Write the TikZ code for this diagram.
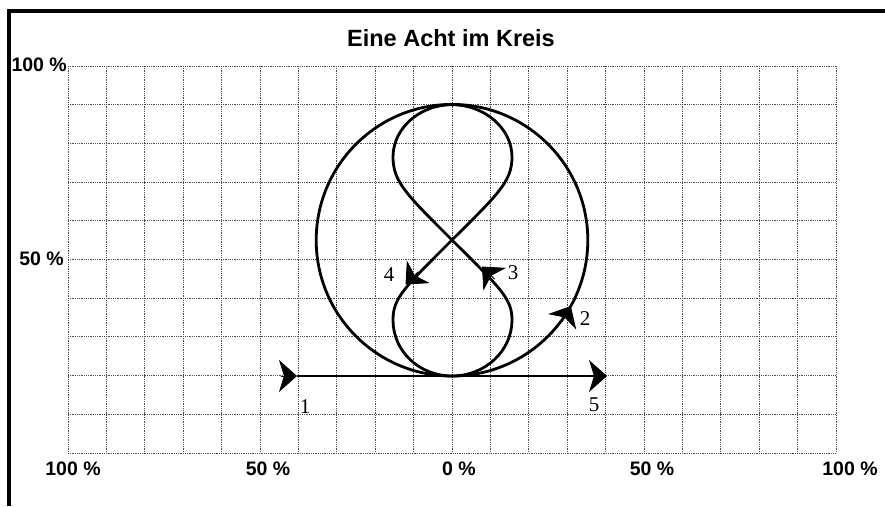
\documentclass[tikz,border=0pt]{standalone}
\usepackage{fontspec}
\setmainfont{Liberation Serif}
\newfontfamily\arialfont{Liberation Sans}
\usetikzlibrary{arrows.meta}
\begin{document}
\begin{tikzpicture}[x=1pt,y=-1pt,
  >={Stealth[length=18pt,width=32pt,inset=5pt,line width=0.8pt]},
  gridline/.style={draw=black!70, line width=0.9pt, dash pattern=on 1pt off 0.8pt},
  pathline/.style={draw=black, line width=2.8pt},
  tipmark/.style={->, draw=black, line width=0.8pt},
  axislabel/.style={font=\arialfont\bfseries\fontsize{19.5}{22}\selectfont, inner sep=0pt},
  numlabel/.style={font=\fontsize{21}{24}\selectfont, inner sep=0pt},
  titlelabel/.style={font=\arialfont\bfseries\fontsize{23.5}{27}\selectfont, inner sep=0pt}
]
\fill[white] (0,0) rectangle (885,506);
\useasboundingbox (0,0) rectangle (885,506);

% grid
\foreach \i in {0,...,20}
  \draw[gridline] ({68+38.4*\i},66) -- ({68+38.4*\i},453);
\foreach \j in {0,...,10}
  \draw[gridline] (68,{66+38.7*\j}) -- (836,{66+38.7*\j});

% frame
\draw[line width=4pt] (9,506) -- (9,11) -- (885,11);

% title
\node[titlelabel] (title) at (451,38) {Eine Acht im Kreis};

% axis labels
\node[axislabel, anchor=east] (ytop) at (67,65) {100 \%};
\node[axislabel, anchor=east] (ymid) at (64,259) {50 \%};
\node[axislabel] (xl100) at (73,469) {100 \%};
\node[axislabel] (xl50) at (268,469) {50 \%};
\node[axislabel] (x0) at (459,469) {0 \%};
\node[axislabel] (xr50) at (652,469) {50 \%};
\node[axislabel] (xr100) at (850,469) {100 \%};

% key points
\coordinate (B) at (452,376);
\coordinate (T) at (452,104.7);
\coordinate (X) at (452,240);
\coordinate (C) at (452,240.2);
\coordinate (S) at (297,376);
\coordinate (E) at (607,376);

% circle
\draw[pathline] (C) circle[radius=135.8pt];

% upper lobe
\draw[pathline] (X) .. controls (407,195) and (393,182) .. (393,157)
  .. controls (393,128) and (420,104.7) .. (T)
  .. controls (484,104.7) and (512,128) .. (512,157)
  .. controls (512,182) and (497,195) .. (X);

% lower lobe
\draw[pathline] (X) .. controls (500,288) and (512,298) .. (512,320)
  .. controls (512,351) and (485,376) .. (B)
  .. controls (419,376) and (393,351) .. (393,320)
  .. controls (393,298) and (404,288) .. (X);

% baseline
\draw[pathline, ->] (S) -- (E);

% arrow marks
\coordinate (a1) at (281,376);
\draw[tipmark] (a1) -- (S);
\coordinate (a2s) at (562.2,321.7);
\coordinate (a2e) at (570.8,306.0);
\draw[tipmark] (a2s) -- (a2e);
\coordinate (a3s) at (494.7,279.2);
\coordinate (a3e) at (482,266.5);
\draw[tipmark] (a3s) -- (a3e);
\coordinate (a4s) at (418.2,271.8);
\coordinate (a4e) at (405.5,284.5);
\draw[tipmark] (a4s) -- (a4e);

% number labels
\node[numlabel] (n1) at (305,407) {1};
\node[numlabel] (n2) at (585,319) {2};
\node[numlabel] (n3) at (513,273) {3};
\node[numlabel] (n4) at (389,275) {4};
\node[numlabel] (n5) at (594,405) {5};
\end{tikzpicture}
\end{document}
